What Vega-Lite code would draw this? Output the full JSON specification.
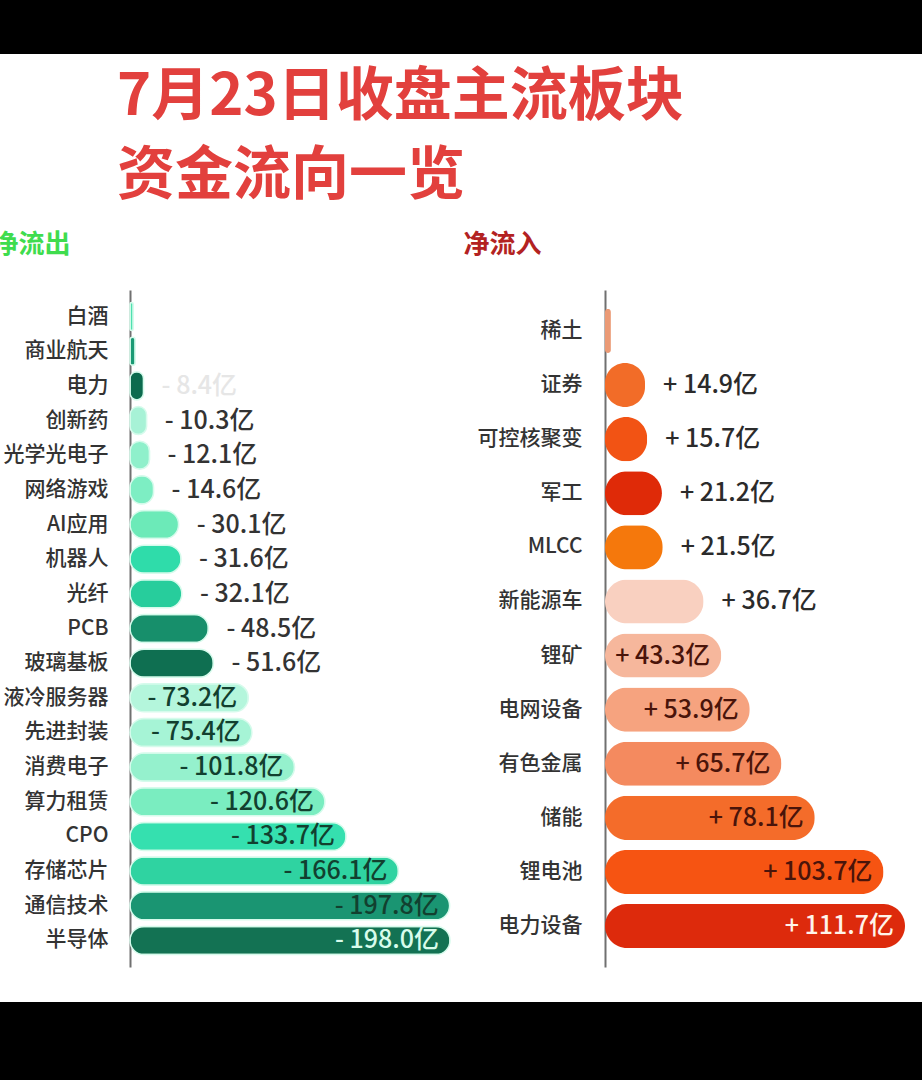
{
  "$schema": "https://vega.github.io/schema/vega-lite/v6.json",
  "width": 922,
  "height": 948,
  "autosize": {"type": "none"},
  "padding": {"top": 54, "bottom": 78, "left": 0, "right": 0},
  "background": "#000000",
  "title": {
    "text": ["7月23日收盘主流板块", "资金流向一览"],
    "anchor": "start",
    "frame": "group",
    "dx": 117,
    "dy": 140,
    "offset": -12,
    "baseline": "top",
    "fontSize": 58,
    "font": "Noto Sans CJK SC",
    "fontWeight": "bold",
    "color": "#e2403d",
    "lineHeight": 79
  },
  "config": {
    "view": {"fill": "#ffffff", "stroke": null},
    "font": "Noto Sans CJK SC"
  },
  "resolve": {
    "scale": {"x": "independent", "y": "independent", "color": "independent"},
    "axis": {"x": "independent", "y": "independent"}
  },
  "layer": [
    {
      "data": {
        "values": [
          {"name": "白酒", "value": 2.0, "label": ""},
          {"name": "商业航天", "value": 3.2, "label": ""},
          {"name": "电力", "value": 8.4, "label": "- 8.4亿"},
          {"name": "创新药", "value": 10.3, "label": "- 10.3亿"},
          {"name": "光学光电子", "value": 12.1, "label": "- 12.1亿"},
          {"name": "网络游戏", "value": 14.6, "label": "- 14.6亿"},
          {"name": "AI应用", "value": 30.1, "label": "- 30.1亿"},
          {"name": "机器人", "value": 31.6, "label": "- 31.6亿"},
          {"name": "光纤", "value": 32.1, "label": "- 32.1亿"},
          {"name": "PCB", "value": 48.5, "label": "- 48.5亿"},
          {"name": "玻璃基板", "value": 51.6, "label": "- 51.6亿"},
          {"name": "液冷服务器", "value": 73.2, "label": "- 73.2亿"},
          {"name": "先进封装", "value": 75.4, "label": "- 75.4亿"},
          {"name": "消费电子", "value": 101.8, "label": "- 101.8亿"},
          {"name": "算力租赁", "value": 120.6, "label": "- 120.6亿"},
          {"name": "CPO", "value": 133.7, "label": "- 133.7亿"},
          {"name": "存储芯片", "value": 166.1, "label": "- 166.1亿"},
          {"name": "通信技术", "value": 197.8, "label": "- 197.8亿"},
          {"name": "半导体", "value": 198.0, "label": "- 198.0亿"}
        ]
      },
      "encoding": {
        "y": {
          "field": "name",
          "type": "nominal",
          "sort": null,
          "scale": {
            "domain": ["白酒", "商业航天", "电力", "创新药", "光学光电子", "网络游戏", "AI应用", "机器人", "光纤", "PCB", "玻璃基板", "液冷服务器", "先进封装", "消费电子", "算力租赁", "CPO", "存储芯片", "通信技术", "半导体"],
            "range": [236, 913],
            "paddingInner": 0.19,
            "paddingOuter": 0.36
          },
          "axis": {
            "orient": "left",
            "offset": -130,
            "title": "净流出",
            "titleAngle": 0,
            "titleX": -138,
            "titleY": 190,
            "titleAlign": "left",
            "titleBaseline": "middle",
            "titleFontSize": 26,
            "titleFontWeight": "bold",
            "titleColor": "#3fdc4e",
            "titleFont": "Noto Sans CJK SC",
            "ticks": false,
            "grid": false,
            "labelPadding": 22,
            "labelFontSize": 21,
            "labelFontWeight": 500,
            "labelColor": "#333333",
            "labelFont": "Noto Sans CJK SC",
            "labelLimit": 300,
            "domainColor": "#707070",
            "domainWidth": 2
          }
        },
        "x": {
          "field": "value",
          "type": "quantitative",
          "scale": {"domain": [0, 198], "range": [130, 450], "nice": false},
          "axis": null
        }
      },
      "layer": [
        {
          "mark": {"type": "bar", "cornerRadius": 14, "stroke": "#d6fbec", "strokeWidth": 1.5},
          "encoding": {
            "color": {
              "field": "name",
              "type": "nominal",
              "scale": {
                "domain": ["白酒", "商业航天", "电力", "创新药", "光学光电子", "网络游戏", "AI应用", "机器人", "光纤", "PCB", "玻璃基板", "液冷服务器", "先进封装", "消费电子", "算力租赁", "CPO", "存储芯片", "通信技术", "半导体"],
                "range": ["#4fe0b0", "#1a9a74", "#0c6b4e", "#a7f2d6", "#8ff0cb", "#7deec3", "#6ceab8", "#2fdcaa", "#27cd9c", "#178f6b", "#0f6f51", "#b4f6dc", "#a6f4d6", "#95f1cd", "#7aedc0", "#35e0af", "#2fd3a1", "#1a9572", "#137253"]
              },
              "legend": null
            }
          }
        },
        {
          "transform": [{"filter": "datum.value < 60"}],
          "mark": {"type": "text", "align": "left", "baseline": "middle", "dx": 18, "fontSize": 25, "fontWeight": 500, "font": "Noto Sans CJK SC"},
          "encoding": {
            "text": {"field": "label"},
            "color": {"condition": {"test": "datum.name === '电力'", "value": "#e6e6e6"}, "value": "#333333"}
          }
        },
        {
          "transform": [{"filter": "datum.value >= 60"}],
          "mark": {"type": "text", "align": "right", "baseline": "middle", "dx": -11, "fontSize": 25, "fontWeight": 500, "font": "Noto Sans CJK SC"},
          "encoding": {
            "text": {"field": "label"},
            "color": {"condition": {"test": "datum.name === '半导体'", "value": "#d8fcec"}, "value": "#12402f"}
          }
        }
      ]
    },
    {
      "data": {
        "values": [
          {"name": "稀土", "value": 2.2, "label": ""},
          {"name": "证券", "value": 14.9, "label": "+ 14.9亿"},
          {"name": "可控核聚变", "value": 15.7, "label": "+ 15.7亿"},
          {"name": "军工", "value": 21.2, "label": "+ 21.2亿"},
          {"name": "MLCC", "value": 21.5, "label": "+ 21.5亿"},
          {"name": "新能源车", "value": 36.7, "label": "+ 36.7亿"},
          {"name": "锂矿", "value": 43.3, "label": "+ 43.3亿"},
          {"name": "电网设备", "value": 53.9, "label": "+ 53.9亿"},
          {"name": "有色金属", "value": 65.7, "label": "+ 65.7亿"},
          {"name": "储能", "value": 78.1, "label": "+ 78.1亿"},
          {"name": "锂电池", "value": 103.7, "label": "+ 103.7亿"},
          {"name": "电力设备", "value": 111.7, "label": "+ 111.7亿"}
        ]
      },
      "encoding": {
        "y": {
          "field": "name",
          "type": "nominal",
          "sort": null,
          "scale": {
            "domain": ["稀土", "证券", "可控核聚变", "军工", "MLCC", "新能源车", "锂矿", "电网设备", "有色金属", "储能", "锂电池", "电力设备"],
            "range": [236, 913],
            "paddingInner": 0.185,
            "paddingOuter": 0.35
          },
          "axis": {
            "orient": "left",
            "offset": -605,
            "title": "净流入",
            "titleAngle": 0,
            "titleX": -142,
            "titleY": 190,
            "titleAlign": "left",
            "titleBaseline": "middle",
            "titleFontSize": 26,
            "titleFontWeight": "bold",
            "titleColor": "#b32222",
            "titleFont": "Noto Sans CJK SC",
            "ticks": false,
            "grid": false,
            "labelPadding": 23,
            "labelFontSize": 21,
            "labelFontWeight": 500,
            "labelColor": "#333333",
            "labelFont": "Noto Sans CJK SC",
            "labelLimit": 300,
            "domainColor": "#707070",
            "domainWidth": 2
          }
        },
        "x": {
          "field": "value",
          "type": "quantitative",
          "scale": {"domain": [0, 111.7], "range": [605, 905], "nice": false},
          "axis": null
        }
      },
      "layer": [
        {
          "mark": {"type": "bar", "cornerRadius": 22},
          "encoding": {
            "color": {
              "field": "name",
              "type": "nominal",
              "scale": {
                "domain": ["稀土", "证券", "可控核聚变", "军工", "MLCC", "新能源车", "锂矿", "电网设备", "有色金属", "储能", "锂电池", "电力设备"],
                "range": ["#eb9a75", "#f26c28", "#f25314", "#df2a08", "#f5780c", "#f9d0c0", "#f6b79c", "#f6a37f", "#f48a5f", "#f46c2a", "#f65412", "#dd2a0c"]
              },
              "legend": null
            }
          }
        },
        {
          "transform": [{"filter": "datum.value < 40"}],
          "mark": {"type": "text", "align": "left", "baseline": "middle", "dx": 18, "fontSize": 25, "fontWeight": 500, "font": "Noto Sans CJK SC"},
          "encoding": {
            "text": {"field": "label"},
            "color": {"value": "#2b2b2b"}
          }
        },
        {
          "transform": [{"filter": "datum.value >= 40"}],
          "mark": {"type": "text", "align": "right", "baseline": "middle", "dx": -11, "fontSize": 25, "fontWeight": 500, "font": "Noto Sans CJK SC"},
          "encoding": {
            "text": {"field": "label"},
            "color": {"condition": {"test": "datum.name === '电力设备'", "value": "#fff3ea"}, "value": "#4a140a"}
          }
        }
      ]
    }
  ]
}
